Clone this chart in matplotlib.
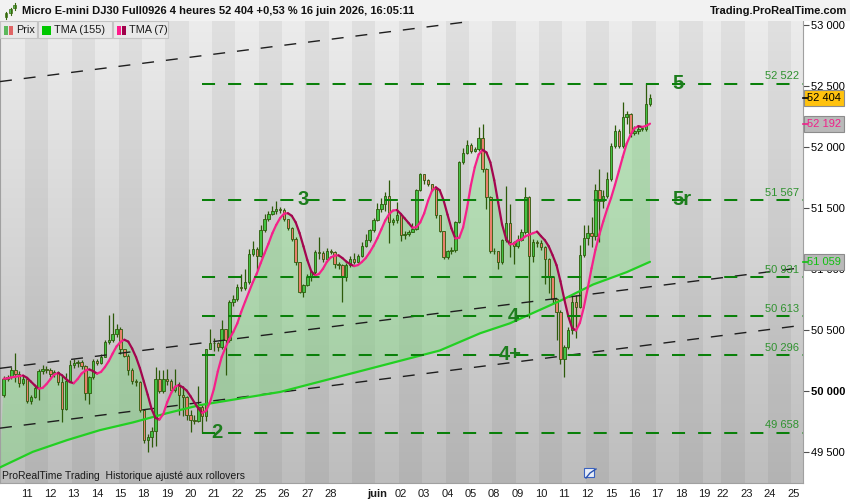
import numpy as np
import pandas as pd
import matplotlib
matplotlib.use("Agg")
import matplotlib.pyplot as plt
import matplotlib.transforms as mtransforms
from matplotlib.collections import LineCollection
from matplotlib.patches import Polygon, Rectangle
from matplotlib.lines import Line2D

plt.rcParams['font.family'] = ['Liberation Sans', 'DejaVu Sans']
plt.rcParams['lines.scale_dashes'] = False

W, H = 850, 500

# ---- 4h candles, 8 May -> 16 June (open = previous close) ----
first_open = 49964
close = [
    50100, 50110, 50175, 50140, 50065, 50100,   # 08 May
    49915, 49950, 50025, 50160, 50180, 50170,   # 11
    50135, 50155, 50075, 49855, 50085, 50215,   # 12
    50230, 50235, 50200, 49980, 50110, 50245,   # 13
    50230, 50280, 50400, 50415, 50470, 50510,   # 14
    50345, 50290, 50170, 50080, 50070, 49840,   # 15
    49600, 49620, 49670, 50100, 49995, 50095,   # 18
    50080, 50010, 50040, 49965, 49950, 49800,   # 19
    49760, 49755, 49870, 49790, 50345, 50390,   # 20
    50390, 50360, 50510, 50415, 50730, 50756,   # 21
    50850, 50845, 50895, 51125, 51165, 51110,   # 22
    51320, 51410, 51450, 51480, 51490, 51485,   # 25
    51410, 51340, 51250, 51055, 50810, 50870,   # 26
    50935, 50975, 51140, 51130, 51085, 51150,   # 27
    51140, 51045, 51030, 50935, 51030, 51085,   # 28
    51060, 51110, 51190, 51235, 51320, 51405,   # 29
    51490, 51530, 51595, 51385, 51400, 51440,   # 01 Jun
    51280, 51290, 51300, 51330, 51645, 51780,   # 02
    51730, 51695, 51660, 51440, 51310, 51100,   # 03
    51150, 51160, 51385, 51875, 51955, 52020,   # 04
    51970, 51985, 52075, 51820, 51590, 51150,   # 05
    51145, 51055, 51235, 51380, 51220, 51185,   # 08
    51235, 51302, 51590, 51110, 51220, 51215,   # 09
    51180, 51085, 50935, 50756, 50647, 50265,   # 10
    50360, 50497, 50730, 50690, 51115, 51253,   # 11
    51294, 51270, 51650, 51560, 51600, 51740,   # 12
    52012, 52135, 52010, 52245, 52270, 52120,   # 15
    52135, 52150, 52150, 52355, 52404,          # 16
]
high = [
    50120, 50130, 50195, 50310, 50160, 50125,
    50110, 49965, 50040, 50180, 50210, 50200,
    50185, 50170, 50165, 50120, 50150, 50250,
    50265, 50255, 50250, 50210, 50125, 50260,
    50260, 50300, 50415, 50620, 50640, 50550,
    50520, 50345, 50300, 50190, 50100, 50080,
    49850, 49650, 49700, 50195, 50170, 50170,
    50180, 50100, 50180, 50070, 50040, 49960,
    49840, 49800, 50040, 49880, 50345, 50510,
    50430, 50400, 50580, 50510, 50745, 50790,
    50880, 50960, 51000, 51165, 51230, 51180,
    51360, 51450, 51480, 51520, 51560, 51510,
    51500, 51360, 51345, 51260, 51060, 50880,
    50960, 50990, 51160, 51260, 51150, 51170,
    51165, 51150, 51060, 51045, 51050, 51110,
    51130, 51125, 51220, 51290, 51330, 51420,
    51540, 51580, 51630, 51730, 51420, 51550,
    51450, 51310, 51320, 51380, 51660, 51790,
    51770, 51740, 51700, 51570, 51440, 51310,
    51160, 51180, 51390, 51890, 51990, 52060,
    52030, 52000, 52165, 52190, 51830, 51600,
    51170, 51150, 51250, 51680, 51530, 51230,
    51280, 51330, 51670, 51600, 51250, 51240,
    51240, 51190, 51090, 50945, 50760, 50660,
    50380, 50520, 50790, 50790, 51195, 51360,
    51360, 51430, 51700, 51820, 51650, 51800,
    52030, 52180, 52150, 52370, 52300, 52280,
    52170, 52180, 52175, 52522, 52440,
]
low = [
    49950, 50080, 50100, 50075, 50030, 50050,
    49900, 49890, 49940, 49925, 50135, 50145,
    50115, 50110, 50045, 49745, 49840, 50075,
    50190, 50195, 50180, 49925, 49895, 50100,
    50215, 50220, 50280, 50385, 50400, 50440,
    50305, 50280, 50130, 50060, 50040, 49830,
    49570, 49500, 49540, 49545, 49980, 49985,
    50050, 49990, 49990, 49800, 49790, 49760,
    49660, 49730, 49745, 49658, 49750, 50340,
    50330, 50330, 50340, 50130, 50400, 50700,
    50740, 50820, 50830, 50880, 51110, 50990,
    51100, 51300, 51390, 51440, 51450, 51460,
    51390, 51320, 51230, 51030, 50800, 50770,
    50860, 50900, 50960, 51080, 51060, 51070,
    51120, 51010, 51000, 50730, 50900, 51020,
    51040, 51050, 51100, 51180, 51220, 51300,
    51390, 51470, 51480, 51210, 51360, 51380,
    51230, 51250, 51270, 51300, 51320, 51640,
    51700, 51680, 51640, 51420, 51300, 51080,
    51080, 51120, 51140, 51380, 51860, 51940,
    51950, 51960, 51970, 51800, 51490, 51130,
    51120, 51000, 51040, 51220, 51100, 51040,
    51170, 51230, 51290, 50600, 51060, 51180,
    51160, 50880, 50800, 50720, 50420, 50220,
    50115, 50340, 50470, 50430, 50680, 51100,
    51200, 51180, 51240, 51220, 51500, 51580,
    51720, 51990, 51990, 51990, 52190, 52080,
    52100, 52110, 52130, 52130, 52340,
]
first_index = -6   # 8 May, 00h -> candle index; 11 May 00h = 0

# TMA(155) (candle index, price)
tma155_x = [-6.94, 1.5, 10.3, 18.75, 27.2, 36, 44.4, 54.7, 65, 106, 116.4, 124, 137, 145.4, 154, 160]
tma155_y = [49372, 49500, 49596, 49678, 49741, 49817, 49883, 49937, 49991, 50331, 50473, 50554, 50740, 50873, 50974, 51059]

# pivot levels
levels = [52522, 51567, 50931, 50613, 50296, 49658]
level_marks = [("5", 167.1, 52522), ("5r", 168.1, 51567), ("3", 70.9, 51567),
               ("4", 125, 50613), ("4+", 124, 50296), ("2", 48.7, 49658)]

# channel lines, two anchors each
channels = [((-6.94, 52538), (54.7, 52790)),
            ((-6.94, 50185), (172.9, 50906)),
            ((-6.94, 49694), (172.9, 50431))]

# trading days: first candle index and label
day_start = [-6, 0, 6, 12, 18, 24, 30, 36, 42, 48, 54, 60, 66, 72, 78, 84, 90, 96, 102, 108,
             114, 120, 126, 132, 138, 144, 150, 156, 162, 168, 174, 178.8, 184.8, 190.8, 196.8]
day_label = ["", "11", "12", "13", "14", "15", "18", "19", "20", "21", "22", "25", "26", "27", "28",
             "", "juin", "02", "03", "04", "05", "08", "09", "10", "11", "12", "15", "16", "17", "18",
             "19", "22", "23", "24", "25"]

last_price = 52404
tma7_tag = 52192
tma155_tag = 51059
title = "Micro E-mini DJ30 Full0926 4 heures 52 404 +0,53 % 16 juin 2026, 16:05:11"


def fmt(v):
    return f"{v:,.0f}".replace(",", " ")


close = np.array(close, dtype=float)
high = np.array(high, dtype=float)
low = np.array(low, dtype=float)
opens = np.concatenate([[first_open], close[:-1]])
idx = np.arange(first_index, first_index + len(close))

tma7 = pd.Series(close).rolling(4, min_periods=1).mean().rolling(4, min_periods=1).mean().values

fig = plt.figure(figsize=(8.5, 5), dpi=100)
fig.patch.set_facecolor('white')
ax = fig.add_axes([0, 17 / 500, 803 / 850, 462 / 500])
xmin, xmax = -6.94, 199.3
ymin, ymax = 49244, 53035

# background gradient + day bands
grad = np.linspace(236, 189, 200) / 255
img = np.dstack([grad, grad, grad]).reshape(200, 1, 3)
ax.imshow(img, extent=[xmin, xmax, ymin, ymax], aspect='auto', zorder=0, interpolation='bilinear')
for k in range(len(day_start)):
    if k % 2 == 1:
        right = day_start[k + 1] - 0.5 if k + 1 < len(day_start) else day_start[k] + 5.5
        ax.axvspan(day_start[k] - 0.5, right, color='black', alpha=0.05, lw=0, zorder=0.5)

# fill between TMA7 and TMA155 (green above, red below)
verts = list(zip(idx, tma7)) + list(zip(tma155_x[::-1], tma155_y[::-1]))
clip_up = Polygon(list(zip(tma155_x, tma155_y)) + [(tma155_x[-1], 60000), (tma155_x[0], 60000)],
                  transform=ax.transData)
clip_dn = Polygon(list(zip(tma155_x, tma155_y)) + [(tma155_x[-1], 40000), (tma155_x[0], 40000)],
                  transform=ax.transData)
fill_g = Polygon(verts, closed=True, facecolor='#74de74', alpha=0.38, edgecolor='none', zorder=1)
ax.add_patch(fill_g)
fill_g.set_clip_path(clip_up)
fill_r = Polygon(verts, closed=True, facecolor='#f08a8a', alpha=0.35, edgecolor='none', zorder=1)
ax.add_patch(fill_r)
fill_r.set_clip_path(clip_dn)

# candles
edge = '#2d5a0a'
up = close >= opens
ax.vlines(idx, low, high, color=edge, lw=0.9, zorder=3)
body_lo = np.minimum(opens, close)
body_h = np.maximum(np.abs(close - opens), 6)
ax.bar(idx, body_h, bottom=body_lo, width=0.62,
       color=np.where(up, '#44c244', '#e8806c'), edgecolor=edge, linewidth=0.6, zorder=4)

# channel lines
for p1, p2 in channels:
    ax.axline(p1, p2, color='#1e1e1e', lw=1.0, dashes=(8.6, 8.6), zorder=5)

# TMA155
ax.plot(tma155_x, tma155_y, color='#22d022', lw=1.6, zorder=6, solid_capstyle='round')

# TMA7 coloured by slope
pts = np.column_stack([idx, tma7])
segs = np.stack([pts[:-1], pts[1:]], axis=1)
cols = np.where(np.diff(tma7) >= 0, '#f5218a', '#a3064f')
ax.add_collection(LineCollection(segs, colors=cols, linewidths=1.6, zorder=7, capstyle='round'))

# pivot levels
trans_r = mtransforms.blended_transform_factory(ax.transAxes, ax.transData)
for lv in levels:
    ax.plot([44.95, xmax], [lv, lv], color='#0a800a', lw=1.45, dashes=(9.4, 9.4), zorder=8)
    ax.text(799 / 803, lv + 18, fmt(lv), transform=trans_r, ha='right', va='bottom',
            fontsize=8, color='#2f922f', zorder=9)
for txt, xx, yy in level_marks:
    ax.text(xx, yy, txt, ha='center', va='center', fontsize=14.5, fontweight='bold',
            color='#1d7d1d', zorder=9)

ax.text(2 / 803, 1 - (476 - 21) / 462, "ProRealTime Trading  Historique ajusté aux rollovers",
        transform=ax.transAxes, ha='left', va='center', fontsize=7.5, color='#1a1a1a', zorder=9)

ax.set_xlim(xmin, xmax)
ax.set_ylim(ymin, ymax)

# axes styling
ax.spines['top'].set_visible(False)
for s in ['left', 'right', 'bottom']:
    ax.spines[s].set_color('#a0a0a0')
ax.yaxis.tick_right()
yt = np.arange(49500, 53001, 500)
ax.set_yticks(yt, [fmt(v) for v in yt])
ax.tick_params(axis='y', labelsize=8, length=4, pad=2, color='#505050', labelcolor='black')
for lab in ax.get_yticklabels():
    if lab.get_text() == "50 000":
        lab.set_fontweight('bold')
ticks = [p for p, l in zip(day_start, day_label) if l]
labels = [l for l in day_label if l]
ax.set_xticks(ticks, labels)
ax.tick_params(axis='x', labelsize=8, length=0, pad=4, labelcolor='#1a1a1a')
for lab in ax.get_xticklabels():
    if lab.get_text() == "juin":
        lab.set_fontweight('bold')


# price tags on the right axis
def tag(y, text, fc, tc):
    ax.text(1 + 4 / 803, y, text, transform=trans_r, ha='left', va='center', fontsize=8, color=tc,
            bbox=dict(boxstyle='square,pad=0.28', fc=fc, ec='#8c8c8c', lw=0.8), clip_on=False, zorder=20)
    ax.plot([1, 1 + 5 / 803], [y, y], transform=trans_r, color=tc, lw=1.2, clip_on=False, zorder=20)


tag(tma155_tag, fmt(tma155_tag), '#b9b9b9', '#10c010')
tag(tma7_tag, fmt(tma7_tag), '#b9b9b9', '#f0208a')
tag(last_price, fmt(last_price), '#ffc20e', 'black')


# header bar
def px(x, y):
    return x / W, 1 - y / H


fig.add_artist(Rectangle(px(0, 21), 1, 21 / H, transform=fig.transFigure, fc='#f2f2f2', ec='none'))
fig.text(*px(22, 11), title, fontsize=8, fontweight='bold', va='center', ha='left', color='#111111')
fig.text(*px(847, 11), "Trading.ProRealTime.com", fontsize=8, fontweight='bold', va='center',
         ha='right', color='#111111')
for xc, y1, y2, b1, b2 in [(6, 12, 19, 13, 17), (10.5, 8, 15, 9, 13), (14.5, 3, 10, 5, 8)]:
    fig.add_artist(Line2D([xc / W, xc / W], [1 - y1 / H, 1 - y2 / H], transform=fig.transFigure,
                          color='#3a6a10', lw=0.8))
    fig.add_artist(Rectangle(px(xc - 1.3, b2), 2.6 / W, (b2 - b1) / H, transform=fig.transFigure,
                             fc='#58c058', ec='#3a6a10', lw=0.5))

# legend boxes
boxes = [(0, 37, "Prix", ['#5cb85c', '#e06464']),
         (38, 112, "TMA (155)", ['#00c800', '#00c800']),
         (113, 168, "TMA (7)", ['#ff1a8c', '#a0004a'])]
for x0, x1, txt, icol in boxes:
    fig.add_artist(Rectangle(px(x0, 38), (x1 - x0) / W, 17 / H, transform=fig.transFigure,
                             fc='#e9e9e9', ec='#c4c4c4', lw=0.8, zorder=30))
    fig.add_artist(Rectangle(px(x0 + 4, 35), 4.5 / W, 9 / H, transform=fig.transFigure,
                             fc=icol[0], ec='none', zorder=31))
    fig.add_artist(Rectangle(px(x0 + 8.5, 35), 4.5 / W, 9 / H, transform=fig.transFigure,
                             fc=icol[1], ec='none', zorder=31))
    fig.text(*px(x0 + 16, 30), txt, fontsize=7.8, va='center', ha='left', color='#1a1a1a', zorder=32)

# small calendar icon near the bottom
fig.add_artist(Rectangle(px(584, 477), 10 / W, 9 / H, transform=fig.transFigure,
                         fc='#e8eef8', ec='#3a62c0', lw=0.8, zorder=30))
fig.add_artist(Line2D([586 / W, 590 / W, 596 / W], [1 - 478 / H, 1 - 473 / H, 1 - 469 / H],
                      transform=fig.transFigure, color='#2a52b0', lw=1.0, zorder=31))

fig.savefig("out.png", dpi=100, facecolor=fig.get_facecolor())
